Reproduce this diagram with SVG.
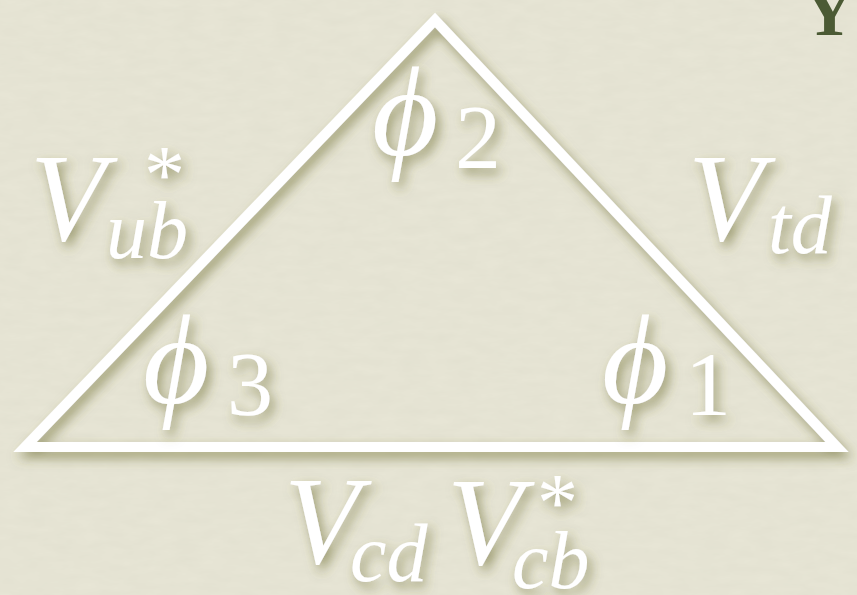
<svg xmlns="http://www.w3.org/2000/svg" width="857" height="595" viewBox="0 0 857 595">
  <defs>
    <filter id="shadow" x="-20%" y="-20%" width="140%" height="140%">
      <feDropShadow dx="4" dy="6" stdDeviation="6" flood-color="#6a6a2a" flood-opacity="0.6"/>
    </filter>
    <filter id="grain" x="0" y="0" width="100%" height="100%">
      <feTurbulence type="fractalNoise" baseFrequency="0.04 0.12" numOctaves="3" seed="4"/>
      <feColorMatrix type="matrix" values="0 0 0 0 0.55  0 0 0 0 0.55  0 0 0 0 0.45  0 0 0 0.16 0"/>
    </filter>
  </defs>
  <style>
    .m { font-family: "Liberation Serif", "DejaVu Serif", serif; font-style: italic; fill: #ffffff; }
    .r { font-family: "Liberation Serif", "DejaVu Serif", serif; fill: #ffffff; }
    .big { font-size: 124px; }
    .sub { font-size: 82px; }
    .phi { font-size: 128px; }
    .dig { font-size: 92px; }
    .lab { filter: url(#shadow); }
  </style>
  <rect width="857" height="595" fill="#e8e6d6"/>
  <rect width="857" height="595" filter="url(#grain)"/>

  <text x="829" y="35" text-anchor="middle" font-family="Liberation Serif, serif" font-weight="bold" font-size="70" fill="#4b5a34">Y</text>

  <g id="triangle" filter="url(#shadow)">
    <polygon points="25,447 435,20 837,447" fill="none" stroke="#ffffff" stroke-width="10" stroke-linejoin="miter" stroke-miterlimit="10"/>
  </g>

  <g id="label-vub" class="lab">
    <text x="30" y="240" class="m big">V</text>
    <text x="144" y="202" class="r sub">*</text>
    <text x="106" y="258" class="m sub">ub</text>
  </g>

  <g id="label-vtd" class="lab">
    <text x="688" y="240" class="m big">V</text>
    <text x="768" y="253" class="m sub">td</text>
  </g>

  <g id="label-vcdvcb" class="lab">
    <text x="284" y="563" class="m big">V</text>
    <text x="350" y="581" class="m sub">cd</text>
    <text x="447" y="564" class="m big">V</text>
    <text x="537" y="530" class="r sub">*</text>
    <text x="512" y="588" class="m sub">cb</text>
  </g>

  <g id="angle-phi2" class="lab">
    <text x="372" y="155" class="m phi">ϕ</text>
    <text x="455" y="168" class="r dig">2</text>
  </g>

  <g id="angle-phi3" class="lab">
    <text x="143" y="403" class="m phi">ϕ</text>
    <text x="227" y="415" class="r dig">3</text>
  </g>

  <g id="angle-phi1" class="lab">
    <text x="602" y="403" class="m phi">ϕ</text>
    <text x="685" y="415" class="r dig">1</text>
  </g>
</svg>
